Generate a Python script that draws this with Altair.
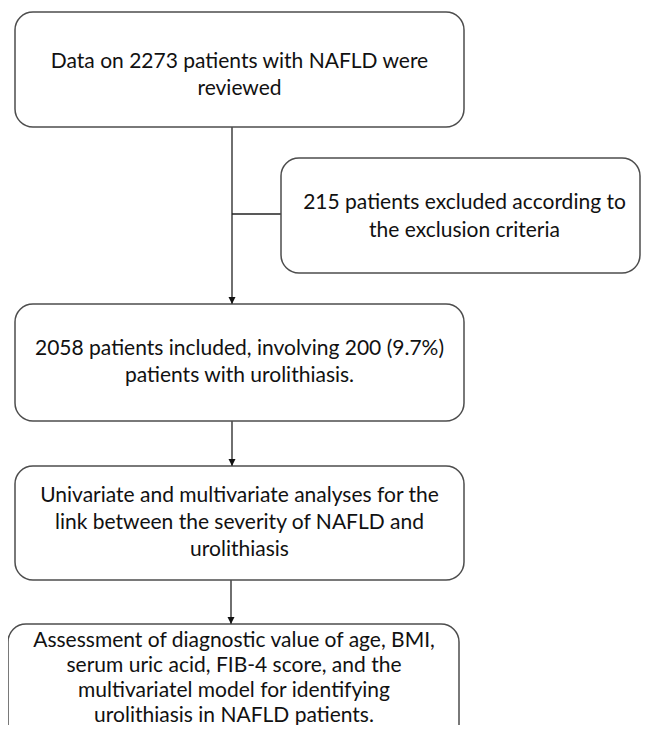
import altair as alt
import pandas as pd

# Boxes (coordinates in px of the 649x733 figure)
box_x1 = [15, 281, 15, 15, 8]
box_x2 = [464, 640, 464, 464, 459]
box_y1 = [12, 158, 304, 466, 624]
box_y2 = [127, 273, 421, 580, 752]

box_texts = [
    ["Data on 2273 patients with NAFLD were", "reviewed"],
    ["215 patients excluded according to", "the exclusion criteria"],
    ["2058 patients included, involving 200 (9.7%)", "patients with urolithiasis."],
    ["Univariate and multivariate analyses for the",
     "link between the severity of NAFLD and", "urolithiasis"],
    ["Assessment of diagnostic value of age, BMI,",
     "serum uric acid, FIB-4 score, and the",
     "multivariatel model for identifying",
     "urolithiasis in NAFLD patients."],
]
text_center_x = [239.5, 464.5, 239.5, 239.5, 234]
text_first_y = [62, 203, 349, 496, 641]
line_gaps = [27, 28, 27, 27, 25]

# Connector segments
seg_x1 = [232, 232, 232, 231]
seg_y1 = [127, 214, 421, 580]
seg_x2 = [232, 281, 232, 231]
seg_y2 = [304, 214, 466, 624]

# Arrow tips
arrow_x = [232, 232, 231]
arrow_y = [304, 466, 624]

boxes = pd.DataFrame({"x1": box_x1, "x2": box_x2, "y1": box_y1, "y2": box_y2})

rows = []
for i, lines in enumerate(box_texts):
    for j, t in enumerate(lines):
        rows.append({"x": text_center_x[i],
                     "y": text_first_y[i] + j * line_gaps[i], "t": t})
texts = pd.DataFrame(rows)

segs = pd.DataFrame({"x1": seg_x1, "y1": seg_y1, "x2": seg_x2, "y2": seg_y2})
arrows = pd.DataFrame({"x": arrow_x, "y": arrow_y})

xs = alt.Scale(domain=[8, 641], nice=False, zero=False)
ys = alt.Scale(domain=[8, 725], nice=False, zero=False, reverse=True)

rect = alt.Chart(boxes).mark_rect(
    cornerRadius=18, fill="white", stroke="#4d4d4d", strokeWidth=1.5
).encode(
    x=alt.X("x1:Q", scale=xs, axis=None), x2="x2:Q",
    y=alt.Y("y1:Q", scale=ys, axis=None), y2="y2:Q",
)

rules = alt.Chart(segs).mark_rule(color="#222222", strokeWidth=1.3).encode(
    x=alt.X("x1:Q", scale=xs, axis=None), x2="x2:Q",
    y=alt.Y("y1:Q", scale=ys, axis=None), y2="y2:Q",
)

heads = alt.Chart(arrows).mark_point(
    shape="M-0.5,-1 L0.5,-1 L0,0 Z", filled=True, fill="#111111",
    size=196, opacity=1
).encode(
    x=alt.X("x:Q", scale=xs, axis=None),
    y=alt.Y("y:Q", scale=ys, axis=None),
)

txt = alt.Chart(texts).mark_text(
    font="Lato", fontSize=21, color="#111111", align="center", baseline="middle"
).encode(
    x=alt.X("x:Q", scale=xs, axis=None),
    y=alt.Y("y:Q", scale=ys, axis=None),
    text="t:N",
)

chart = alt.layer(rules, rect, heads, txt).properties(
    width=633, height=717, padding=0, background="white",
    autosize=alt.AutoSizeParams(type="none"),
).configure_view(stroke=None)

chart.save("out.html", embed_options={"renderer": "svg", "actions": False})
